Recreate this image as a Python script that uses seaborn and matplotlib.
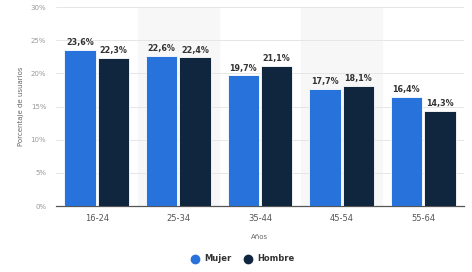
import pandas as pd
import matplotlib.pyplot as plt
import seaborn as sns
from matplotlib.lines import Line2D

# datos
edades = ['16-24', '25-34', '35-44', '45-54', '55-64']
mujer = [23.6, 22.6, 19.7, 17.7, 16.4]
hombre = [22.3, 22.4, 21.1, 18.1, 14.3]
ticks_y = [0, 5, 10, 15, 20, 25, 30]

df = pd.DataFrame({
    'edad': edades * 2,
    'sexo': ['Mujer'] * len(edades) + ['Hombre'] * len(edades),
    'valor': mujer + hombre,
})

colores = {'Mujer': '#2773db', 'Hombre': '#10263f'}

sns.set_style('white')
plt.rcParams['font.family'] = ['DejaVu Sans']

fig = plt.figure(figsize=(4.72, 2.72), dpi=100)
ax = fig.add_axes([0.1186, 0.2426, 0.8644, 0.7314])

# bandas grises alternas
for i in range(len(edades)):
    if i % 2 == 1:
        ax.axvspan(i - 0.5, i + 0.5, color='#f7f7f7', zorder=0)

sns.barplot(data=df, x='edad', y='valor', hue='sexo', palette=colores,
            saturation=1, width=0.82, gap=0.06, edgecolor='white', linewidth=0.6,
            legend=False, ax=ax, zorder=3)

for cont in ax.containers:
    ax.bar_label(cont, labels=[f'{v:.1f}%'.replace('.', ',') for v in cont.datavalues],
                 padding=2, fontsize=5.8, color='#333333', fontweight='semibold')

ax.set_xlim(-0.5, len(edades) - 0.5)
ax.set_ylim(0, 30)
ax.set_yticks(ticks_y)
ax.set_yticklabels([f'{t}%' for t in ticks_y])
ax.yaxis.grid(True, color='#e6e6e6', linewidth=0.7, zorder=1)
ax.set_axisbelow(True)
ax.tick_params(axis='y', labelsize=5, colors='#9a9a9a', length=0, pad=7)
ax.tick_params(axis='x', labelsize=6, colors='#555555', length=0, pad=6)

for s in ['top', 'right', 'left']:
    ax.spines[s].set_visible(False)
ax.spines['bottom'].set_color('#555555')
ax.spines['bottom'].set_linewidth(0.9)

ax.set_xlabel('Años', fontsize=5, color='#666666', labelpad=8)
ax.set_ylabel('Porcentaje de usuarios', fontsize=5, color='#666666', labelpad=5)

handles = [Line2D([0], [0], marker='o', linestyle='', markersize=6,
                  markerfacecolor=colores[k], markeredgecolor=colores[k], label=k)
           for k in ['Mujer', 'Hombre']]
leg = fig.legend(handles=handles, loc='center', bbox_to_anchor=(0.51, 0.048), ncol=2,
                 frameon=False, fontsize=6, handletextpad=0.1, columnspacing=1.0)
for t in leg.get_texts():
    t.set_color('#333333')
    t.set_fontweight('semibold')

fig.savefig('out.png', dpi=100)
